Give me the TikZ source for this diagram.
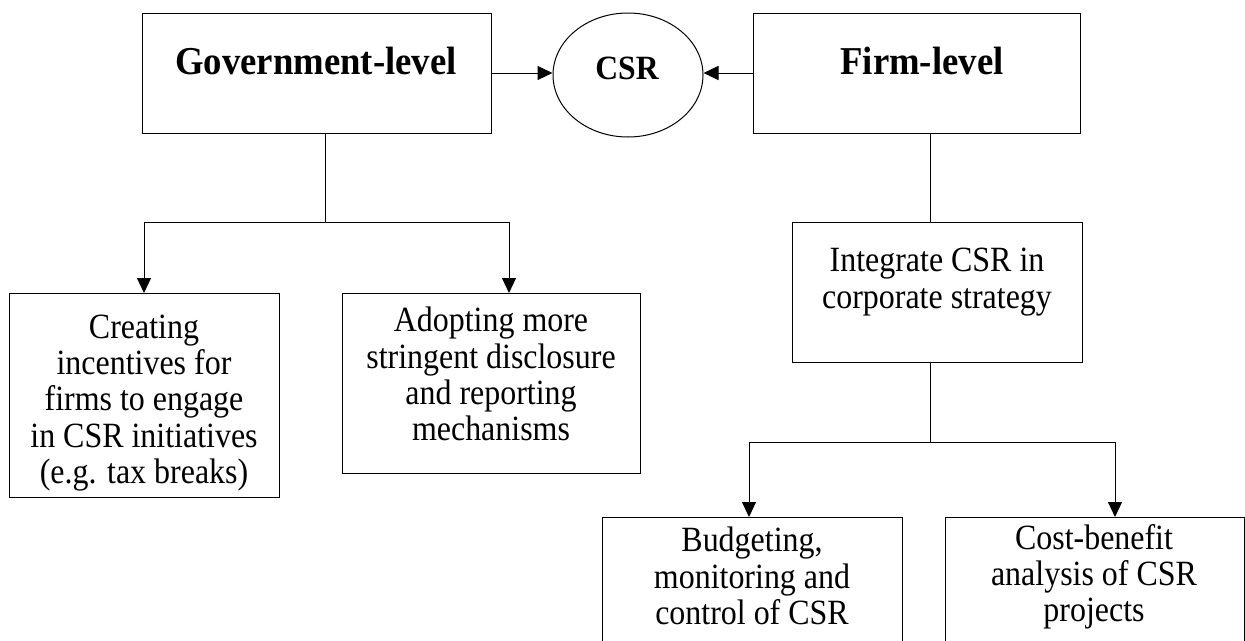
\documentclass[tikz,border=0pt]{standalone}
\usepackage{fontspec}
\setmainfont{Liberation Serif}
\newfontfamily\bodyfont[FakeStretch=0.9]{Liberation Serif}
\newfontfamily\ttlfont[FakeStretch=0.93]{Liberation Serif}
\usetikzlibrary{arrows.meta,shapes.geometric}
\begin{document}
\begin{tikzpicture}[x=1pt,y=-1pt,
  box/.style={draw, line width=1.2pt, anchor=north west, inner sep=0pt},
  ttl/.style={font=\ttlfont\fontsize{39.5}{42}\selectfont\bfseries, inner sep=0pt, anchor=base},
  body/.style={font=\bodyfont\fontsize{35.5}{36.2}\selectfont, align=center, inner sep=0pt, anchor=center},
  con/.style={line width=1pt},
  arr/.style={line width=1pt, -{Triangle[length=15pt,width=14pt]}}]
\useasboundingbox (0,0) rectangle (1245,640);
% top row
\node[box, minimum width=349pt, minimum height=120pt] (gov) at (142,13) {};
\node[ttl] (govt) at (316,74) {Government-level};
\node[draw, line width=1pt, ellipse, minimum width=150pt, minimum height=124pt, inner sep=0pt] (csr) at (628,75) {};
\node[ttl, font=\ttlfont\fontsize{34}{36}\selectfont\bfseries] (csrt) at (627,79) {CSR};
\node[box, minimum width=327pt, minimum height=120pt] (firm) at (753,13) {};
\node[ttl] (firmt) at (922,74) {Firm-level};
\draw[arr] (gov.east |- 0,73) coordinate (g1) -- (g1 -| csr.west);
\draw[arr] (firm.west |- 0,73) coordinate (f1) -- (f1 -| csr.east);
% government branch
\node[box, minimum width=270pt, minimum height=204pt] (b1) at (9,293) {};
\node[body] (b1t) at (144,403) {Creating\\incentives for\\firms to engage\\in CSR initiatives\\(e.g. tax breaks)};
\node[box, minimum width=298pt, minimum height=180pt] (b2) at (342,293) {};
\node[body] (b2t) at (491,374) {Adopting more\\stringent disclosure\\and reporting\\mechanisms};
\coordinate (gj) at (325,222);
\draw[con] (gj |- gov.south) -- (gj);
\draw[arr] (gj) -| (b1.north -| 144,0);
\draw[arr] (gj) -| (b2.north -| 509,0);
% firm branch
\node[box, minimum width=290pt, minimum height=140pt] (b3) at (792,222) {};
\node[body] (b3t) at (937,282) {Integrate CSR in\\corporate strategy};
\draw[con] (b3.north -| 930,0) -- (firm.south -| 930,0);
\node[box, minimum width=300pt, minimum height=140pt] (b4) at (602,517) {};
\node[body] (b4t) at (752,576) {Budgeting,\\monitoring and\\control of CSR};
\node[box, minimum width=299pt, minimum height=140pt] (b5) at (945,517) {};
\node[body] (b5t) at (1094,577) {Cost-benefit\\analysis of CSR\\projects};
\coordinate (fj) at (930,442);
\draw[con] (fj |- b3.south) -- (fj);
\draw[arr] (fj) -| (b4.north -| 749,0);
\draw[arr] (fj) -| (b5.north -| 1115,0);
\end{tikzpicture}
\end{document}
